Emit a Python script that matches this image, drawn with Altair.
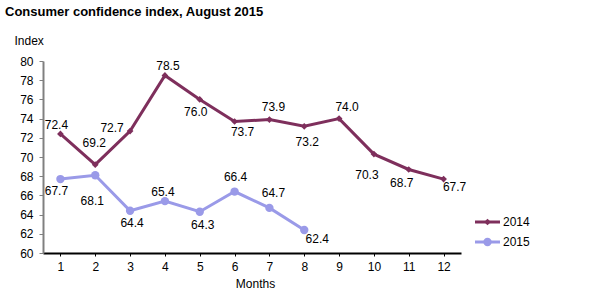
import altair as alt
import pandas as pd

# Monthly consumer confidence index
months = list(range(1, 13))
series_names = ["2014", "2015"]
values_2014 = [72.4, 69.2, 72.7, 78.5, 76.0, 73.7, 73.9, 73.2, 74.0, 70.3, 68.7, 67.7]
values_2015 = [67.7, 68.1, 64.4, 65.4, 64.3, 66.4, 64.7, 62.4]
y_ticks = [60, 62, 64, 66, 68, 70, 72, 74, 76, 78, 80]

# Label placement (pixel offsets from each marker)
label_dx_2014 = [-4, -1, -18, 3, -4, 8, 4, 3, 8, -7, -7, 11]
label_dy_2014 = [-9, -22, -3, -9, 13, 11, -13, 16, -12, 21, 14, 8]
label_dx_2015 = [-4, -3, 2, -2, 3, 1, 4, 13]
label_dy_2015 = [12, 26, 12, -9, 13, -15, -15, 9]

colors = ["#7e2f5c", "#9a9ae8"]
shapes = ["diamond", "circle"]
sizes = [45, 70]
FONT = "Arial"

rows = []
offsets = []
for name, vals, dxs, dys in [
    ("2014", values_2014, label_dx_2014, label_dy_2014),
    ("2015", values_2015, label_dx_2015, label_dy_2015),
]:
    for m, v, dx, dy in zip(months, vals, dxs, dys):
        rows.append({"month": m, "value": v, "series": name})
        offsets.append((name, m, dx, dy))
df = pd.DataFrame(rows)

W, H = 418, 192

x_enc = alt.X(
    "month:Q",
    scale=alt.Scale(domain=[0.5, 12.5], nice=False, zero=False),
    axis=alt.Axis(
        values=months, format="d", title="Months", grid=False, labelOverlap=False,
        domainColor="black", domainWidth=2, tickColor="black", tickSize=3,
        labelFont=FONT, labelFontSize=12, labelColor="black", labelPadding=5,
        titleFont=FONT, titleFontSize=12, titleFontWeight="normal", titleColor="black",
        titleX=212, titleY=30, titleBaseline="middle",
    ),
)
y_enc = alt.Y(
    "value:Q",
    scale=alt.Scale(domain=[60, 80], nice=False, zero=False),
    axis=alt.Axis(
        values=y_ticks, title="Index", grid=False, labelOverlap=False,
        domainColor="#808080", domainWidth=2, tickColor="#808080", tickSize=4,
        labelFont=FONT, labelFontSize=12, labelColor="black", labelPadding=6,
        titleFont=FONT, titleFontSize=12, titleFontWeight="normal", titleColor="black",
        titleAngle=0, titleAlign="left", titleBaseline="middle", titleX=-29, titleY=-21,
    ),
)
color_enc = alt.Color("series:N", scale=alt.Scale(domain=series_names, range=colors), legend=None)

base = alt.Chart(df).encode(x=x_enc, y=y_enc, color=color_enc)

lines = base.mark_line(strokeWidth=3)
points = base.mark_point(filled=True, opacity=1).encode(
    shape=alt.Shape("series:N", scale=alt.Scale(domain=series_names, range=shapes), legend=None),
    size=alt.Size("series:N", scale=alt.Scale(domain=series_names, range=sizes), legend=None),
)

# One text layer per data label so each can sit at its own offset
label_layers = []
for name, m, dx, dy in offsets:
    label_layers.append(
        alt.Chart(df)
        .transform_filter((alt.datum.series == name) & (alt.datum.month == m))
        .mark_text(font=FONT, fontSize=12, color="black", dx=dx, dy=dy)
        .encode(x=x_enc, y=y_enc, text=alt.Text("value:Q", format=".1f"))
    )

# Legend drawn beside the plot
legend_layers = []
for i, name in enumerate(series_names):
    ly = 161 + 20 * i
    c = alt.Chart(pd.DataFrame({"series": [name]}))
    legend_layers.append(
        c.mark_rule(color=colors[i], strokeWidth=3).encode(
            x=alt.value(432), x2=alt.value(457), y=alt.value(ly)
        )
    )
    legend_layers.append(
        c.mark_point(filled=True, opacity=1, color=colors[i], shape=shapes[i], size=sizes[i]).encode(
            x=alt.value(444.5), y=alt.value(ly)
        )
    )
    legend_layers.append(
        c.mark_text(font=FONT, fontSize=12, color="black", align="left", baseline="middle").encode(
            x=alt.value(460), y=alt.value(ly), text="series:N"
        )
    )

title = alt.Chart(pd.DataFrame({"t": ["Consumer confidence index, August 2015"]})).mark_text(
    font=FONT, fontSize=13, fontWeight="bold", color="black", align="left", baseline="middle"
).encode(x=alt.value(-38), y=alt.value(-49), text="t:N")

chart = alt.layer(lines, points, *label_layers, title, *legend_layers).properties(
    width=W, height=H,
    autosize=alt.AutoSizeParams(type="none"),
    padding={"left": 43, "top": 61, "right": 139, "bottom": 55},
).configure(
    background="white",
    view=alt.ViewConfig(stroke=None),
    axis=alt.AxisConfig(labelOverlap=False),
)

chart.save("out.html", embed_options={"renderer": "svg", "actions": False})
